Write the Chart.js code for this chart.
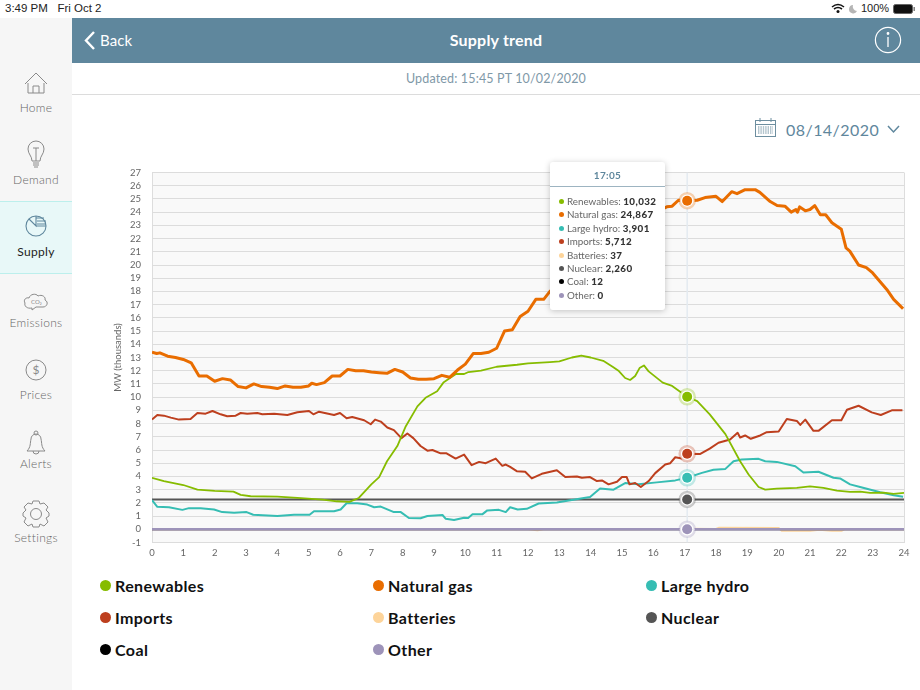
<!DOCTYPE html>
<html><head><meta charset="utf-8">
<script src="https://cdn.jsdelivr.net/npm/chart.js@4/dist/chart.umd.min.js"></script>
<style>
html,body{margin:0;padding:0;width:920px;height:690px;overflow:hidden;background:#fff;font-family:Lato,"Noto Sans",sans-serif;}
.abs{position:absolute;white-space:nowrap;}
#side{position:absolute;left:0;top:18px;width:72px;height:672px;background:#f6f6f6;}
#sel{position:absolute;left:0;top:201px;width:72px;height:71px;background:#e8f8f8;border-top:1px solid #bcefec;border-bottom:1px solid #bcefec;}
.nav{position:absolute;left:0;width:72px;text-align:center;font-size:12px;color:#666;font-weight:300;letter-spacing:.3px;}
#head{position:absolute;left:72px;top:18px;width:848px;height:45px;background:#5f879d;}
#line{position:absolute;left:72px;top:94px;width:848px;height:1px;background:#dcdcdc;}
canvas#c{position:absolute;left:100px;top:160px;}
#tip{position:absolute;left:550px;top:162px;width:115px;height:148px;background:#fff;border-radius:3px;box-shadow:0 1px 6px rgba(0,0,0,.22);font-size:9.8px;color:#666;}
#tip .t{position:absolute;left:0;top:7px;width:100%;text-align:center;color:#5f879d;font-weight:700;font-size:10px;letter-spacing:.3px;}
#tip .r{position:absolute;left:0;top:24px;width:100%;height:1px;background:#9db4c1;}
.row{position:absolute;left:17px;white-space:nowrap;}
.row b{color:#333;font-weight:900;letter-spacing:.4px;}
.row i{position:absolute;left:-8px;top:4px;width:5px;height:5px;border-radius:50%;}
.leg{position:absolute;font-size:16px;font-weight:700;color:#111;white-space:nowrap;letter-spacing:.4px;}
.leg i{position:absolute;left:-15px;top:4px;width:11px;height:11px;border-radius:50%;}
svg{position:absolute;overflow:visible;}
</style></head><body>
<div class="abs" style="left:5px;top:2px;font-size:11.5px;color:#222;font-family:'Liberation Sans'">3:49 PM&nbsp;&nbsp;&nbsp;Fri Oct 2</div>
<svg style="left:831px;top:3px" width="14" height="11" viewBox="0 0 14 11"><path d="M1 4 Q7 -1 13 4 M3 6 Q7 3 11 6" fill="none" stroke="#111" stroke-width="1.6"/><circle cx="7" cy="8.6" r="1.5" fill="#111"/></svg>
<svg style="left:848px;top:4px" width="10" height="10" viewBox="0 0 10 10"><path d="M5 1 A4.2 4.2 0 1 0 9 7 A4.5 4.5 0 0 1 5 1Z" fill="#b5b5b5"/></svg>
<div class="abs" style="left:861px;top:2px;font-size:11px;color:#222;font-family:'Liberation Sans'">100%</div>
<svg style="left:893px;top:4px" width="24" height="11" viewBox="0 0 24 11"><rect x=".5" y=".5" width="19" height="9" rx="2" fill="#111" stroke="#666"/><rect x="20.5" y="3" width="1.4" height="4" fill="#777"/></svg>

<div id="side"></div><div id="sel"></div>
<svg style="left:0;top:70px" width="72" height="40" fill="none" stroke="#8a8a8a" stroke-width="1"><path d="M25 14 L36 3 L47 14"/><path d="M28 13 V23 H44 V13 M33 23 V16 H39 V23"/></svg>
<svg style="left:0;top:140px" width="72" height="40" fill="none" stroke="#8a8a8a" stroke-width="1"><path d="M32 21 C32 16 28 14 28 9 A8 8 0 0 1 44 9 C44 14 40 16 40 21Z"/><path d="M33 8 H39 M36 8 V21 M33 23 H39 M33 25 H39 M34 27 H38"/></svg>
<svg style="left:0;top:213px" width="72" height="30" fill="none" stroke="#5f879d" stroke-width="1.1"><circle cx="36" cy="13" r="10"/><path d="M36 3 V13 L29 6 M36 5 H44 M37 8 H46 M37 11 H46 M36 13 H46"/></svg>
<svg style="left:0;top:288px" width="72" height="30" fill="none" stroke="#8a8a8a" stroke-width="1"><path d="M32 20 C27 21 24 18 25 15 C23 12 26 9 29 10 C30 6 36 5 38 8 C42 6 46 9 45 12 C49 14 47 19 43 19 H36 L32 22Z"/><text x="31" y="16" font-size="6" fill="#8a8a8a" stroke="none">CO₂</text></svg>
<svg style="left:0;top:358px" width="72" height="26" fill="none" stroke="#8a8a8a" stroke-width="1"><circle cx="36" cy="12" r="10"/><text x="36" y="16" font-size="12" text-anchor="middle" fill="#8a8a8a" stroke="none">$</text></svg>
<svg style="left:0;top:430px" width="72" height="26" fill="none" stroke="#8a8a8a" stroke-width="1"><path d="M27 21 C31 17 30 13 31 9 A5 5 0 0 1 41 9 C42 13 41 17 45 21Z M33 21 A3 3 0 0 0 39 21"/><circle cx="36" cy="3" r="2"/></svg>
<svg style="left:0;top:500px" width="72" height="30" fill="none" stroke="#8a8a8a" stroke-width="1"><circle cx="36" cy="14" r="5.5"/><path d="M33 1 L39 1 L40 4 L44 3 L48 7 L46 10 L49 13 V16 L46 18 L48 22 L44 26 L40 24 L39 27 H33 L32 24 L28 26 L24 22 L26 18 L23 16 V13 L26 10 L24 7 L28 3 L32 4Z"/></svg>
<div class="nav" style="top:100px">Home</div><div class="nav" style="top:172px">Demand</div>
<div class="nav" style="top:244px;color:#222;font-weight:400">Supply</div><div class="nav" style="top:315px">Emissions</div>
<div class="nav" style="top:387px">Prices</div><div class="nav" style="top:456px">Alerts</div><div class="nav" style="top:530px">Settings</div>

<div id="head"></div>
<svg style="left:84px;top:31px" width="12" height="20" fill="none" stroke="#fff" stroke-width="2.4"><path d="M10 1 L2 9.5 L10 18"/></svg>
<div class="abs" style="left:100px;top:31px;color:#fff;font-size:15px;font-weight:400;letter-spacing:.1px">Back</div>
<div class="abs" style="left:72px;width:848px;text-align:center;top:30px;color:#fff;font-size:16px;font-weight:700;letter-spacing:.2px">Supply trend</div>
<svg style="left:874px;top:26px" width="28" height="28" fill="none" stroke="#fff" stroke-width="1.2"><circle cx="14" cy="14" r="12.6"/><path d="M14 11 V21" stroke-width="1.3"/><circle cx="14" cy="7.5" r=".8" fill="#fff"/></svg>
<div class="abs" style="left:72px;width:848px;text-align:center;top:71px;color:#7f99a8;font-size:12.5px;font-weight:400;letter-spacing:.15px">Updated: 15:45 PT 10/02/2020</div>
<div id="line"></div>
<svg style="left:755px;top:118px" width="22" height="20" fill="none" stroke="#6d8e9f" stroke-width="1"><rect x=".5" y="2.5" width="20" height="16"/><path d="M.5 6.5 H20.5 M5 0 V4 M16 0 V4" /><path d="M3 9 H18 M3 11 H18 M3 13 H18 M3 15 H18" stroke-dasharray="1.4 1"/></svg>
<div class="abs" style="left:786px;top:120px;color:#5f879d;font-size:16px;font-weight:400;letter-spacing:.45px">08/14/2020</div>
<svg style="left:887px;top:125px" width="13" height="9" fill="none" stroke="#5f879d" stroke-width="1.5"><path d="M1 1 L6.5 7 L12 1"/></svg>

<canvas id="c" width="820" height="400" style="width:820px;height:400px"></canvas>
<div id="tip"><div class="t" id="tipTime"></div><div class="r"></div></div>
<div id="legend"></div>

<script>
const seriesNames = ["Renewables","Natural gas","Large hydro","Imports","Batteries","Nuclear","Coal","Other"];
const seriesColors = ["#86bc00","#e96d00","#36bdb3","#bd3f1e","#fdd49a","#555555","#000000","#9d93b9"];
const tooltipTime = "17:05";
const tooltipHour = 17.08;
const tooltipValues = [10032,24867,3901,5712,37,2260,12,0];
const yTicks = [-1,0,1,2,3,4,5,6,7,8,9,10,11,12,13,14,15,16,17,18,19,20,21,22,23,24,25,26,27];

const renewablesHours = [0,.38,1,1.45,2,2.6,2.83,3.15,4,4.64,5.44,5.9,6.3,6.6,7,7.25,7.5,7.83,8.1,8.47,8.73,9.1,9.3,9.7,9.96,10.1,10.5,11,11.65,12,12.7,13,13.4,13.7,14,14.4,14.7,14.9,15.1,15.26,15.42,15.56,15.7,15.85,16.3,16.6,17.08,17.4,17.8,18.3,18.77,19.04,19.36,19.57,19.94,20.58,21,21.43,21.86,22.28,22.6,22.92,23.35,23.67,24];
const renewablesMW = [3.9,3.65,3.35,3,2.9,2.85,2.6,2.5,2.47,2.37,2.25,2.12,2.07,2.37,3.4,3.95,5.15,6.3,7.8,9.3,9.95,10.45,11.1,11.75,11.75,11.9,12,12.3,12.45,12.55,12.65,12.7,13,13.15,13,12.75,12.3,11.97,11.45,11.3,11.6,12.2,12.4,11.95,11.1,10.85,10.03,9.7,8.7,7.2,5.15,4.15,3.2,3,3.08,3.13,3.25,3.13,2.93,2.83,2.85,2.75,2.78,2.68,2.75];

const gasHours = [0,.15,.25,.5,.75,1,1.25,1.5,1.75,2,2.25,2.5,2.75,3,3.25,3.5,3.75,4,4.25,4.5,4.75,5,5.1,5.25,5.5,5.75,6,6.25,6.5,6.75,7,7.25,7.5,7.75,8,8.25,8.5,8.75,9,9.25,9.5,9.75,10,10.25,10.5,10.75,11,11.25,11.5,11.75,12,12.25,12.5,12.7,13,13.5,14,14.5,15,15.5,16,16.43,16.6,16.8,17.08,17.4,17.65,18,18.2,18.5,18.67,18.93,19.25,19.4,19.73,19.95,20.2,20.4,20.55,20.6,20.67,20.85,21,21.15,21.33,21.5,21.7,22,22.15,22.27,22.55,22.8,23,23.45,23.67,23.97];
const gasMW = [13.4,13.3,13.35,13.1,13,12.85,12.6,11.6,11.6,11.2,11.4,11.3,10.8,10.7,11,10.8,10.75,10.65,10.85,10.75,10.75,10.85,11.05,10.95,11.1,11.6,11.6,12.1,12,12,11.9,11.85,11.8,12.1,11.9,11.45,11.35,11.35,11.4,11.65,11.5,12.05,12.5,13.3,13.3,13.4,13.7,15,15.1,16.1,16.5,17.4,17.4,18,18.6,19.5,20.4,21.4,22.3,23.2,23.9,24.4,24.45,24.9,24.87,24.9,25.1,25.2,24.8,25.55,25.4,25.7,25.7,25.5,24.8,24.5,24.45,24,24.2,24,24.4,24.1,24.2,24.5,23.8,23.8,23.2,22.7,21.3,21.05,20,19.8,19.4,18.15,17.4,16.7];

const hydroHours = [0,.17,.54,.97,1.18,1.55,1.98,2.24,2.62,3.02,3.23,4,4.53,5.03,5.17,5.81,6.02,6.21,6.55,6.87,7.09,7.3,7.72,7.94,8.2,8.57,8.79,9.27,9.37,9.64,9.96,10.09,10.23,10.54,10.7,11.07,11.29,11.43,11.67,11.96,12.34,12.92,13.35,13.98,14.3,14.73,15.1,15.53,16.11,16.7,17.08,17.55,17.92,18.3,18.56,18.82,19.36,19.57,19.94,20.53,20.79,21.27,21.75,21.96,22.28,22.6,23.24,23.67,23.97];
const hydroMW = [2.2,1.7,1.67,1.47,1.6,1.6,1.5,1.3,1.25,1.3,1.1,1,1.1,1.1,1.37,1.37,1.5,1.97,1.97,1.87,1.67,1.72,1.3,1.3,.85,.83,1,1.08,.8,.7,.88,.85,1.13,1.13,1.43,1.47,1.3,1.67,1.5,1.55,1.95,2.02,2.2,2.45,3.08,3,3.5,3.4,3.55,3.7,3.9,4.27,4.5,4.57,5.15,5.28,5.33,5.15,5.1,4.77,4.3,4.35,3.9,3.85,3.4,3.2,2.8,2.58,2.47];

const importsHours = [0,.17,.38,.6,.86,1.23,1.45,1.71,1.93,2.19,2.4,2.67,2.83,3.04,3.36,3.52,3.9,4.32,4.64,5.01,5.15,5.33,5.81,6,6.21,6.39,6.77,6.98,7.12,7.3,7.51,7.72,7.96,8.15,8.34,8.57,8.79,8.95,9.21,9.4,9.69,9.96,10.2,10.44,10.65,10.97,11.18,11.29,11.43,11.64,11.91,12.12,12.44,12.92,13.19,13.56,13.72,13.98,14.2,14.36,14.57,14.84,15,15.15,15.24,15.42,15.6,15.85,16.06,16.38,16.54,16.7,16.91,17.08,17.5,17.8,18.08,18.45,18.69,18.77,18.93,19.11,19.41,19.62,20,20.26,20.58,20.69,20.85,21.11,21.27,21.7,22,22.18,22.55,22.97,23.26,23.61,23.95];
const importsMW = [8.3,8.65,8.6,8.45,8.3,8.35,8.8,8.75,8.95,8.7,8.55,8.6,8.8,8.75,8.8,8.7,8.75,8.65,8.85,8.95,8.7,8.9,8.65,8.8,8.4,8.5,8.25,7.95,8.3,8.15,7.7,7.5,6.9,7.25,6.9,6.3,5.95,6,5.75,5.75,5.35,5.65,4.85,5.1,5,5.35,4.8,4.9,4.72,4.4,4.35,3.85,4.2,4.47,3.95,4,3.9,3.95,3.65,3.7,3.4,3.6,3.95,3.95,3.4,3.5,3.2,3.65,4.25,4.9,5,5.45,5.35,5.71,5.7,6.1,6.55,6.8,7.3,6.95,7.1,6.85,7.1,7.35,7.4,8.35,8.2,7.9,8.3,7.45,7.45,8.25,8.25,9.05,9.35,8.85,8.65,9,9];

const batteriesHours = [0,12,12.3,12.5,13,17,17.08,18,18.1,20,20.1,21,21.3,21.7,22,22.1,24];
const batteriesMW = [0,0,-.08,0,0,.03,.04,.03,.12,.1,-.12,-.12,-.04,-.12,-.12,0,0];
const flatHours = [0,24];
const nuclearMW = [2.26,2.26];
const coalMW = [.012,.012];
const otherMW = [0,0];

const valueLists = [[renewablesHours,renewablesMW],[gasHours,gasMW],[hydroHours,hydroMW],[importsHours,importsMW],[batteriesHours,batteriesMW],[flatHours,nuclearMW],[flatHours,coalMW],[flatHours,otherMW]];
const lineWidths = [1.8,3,2,2,2,2,2,2.5];
const drawOrder = [4,5,6,7,2,3,0,1];
const xy = (h,v)=>h.map((x,i)=>({x,y:v[i]}));
const alpha = (hex,a)=>hex+Math.round(a*255).toString(16).padStart(2,'0');
const sets = [];
sets.push({data:[{x:tooltipHour,y:-1},{x:tooltipHour,y:27}],showLine:true,borderColor:'#e3eaf0',borderWidth:1.5,pointRadius:0,order:100});
drawOrder.forEach((s,i)=>{
  sets.push({label:seriesNames[s],data:xy(valueLists[s][0],valueLists[s][1]),showLine:true,borderColor:seriesColors[s],borderWidth:lineWidths[s],pointRadius:0,tension:0,borderJoinStyle:'round',order:90-i});
});
[0,1,2,3,5,7].forEach(s=>{
  const y = s===7?0:tooltipValues[s]/1000;
  sets.push({data:[{x:tooltipHour,y}],pointRadius:7.5,pointBackgroundColor:'#fff',pointBorderColor:alpha(seriesColors[s],.3),pointBorderWidth:2.5,showLine:false,order:20});
  sets.push({data:[{x:tooltipHour,y}],pointRadius:5,pointBackgroundColor:seriesColors[s],pointBorderWidth:0,showLine:false,order:10});
});

const plotBg = {id:'plotBg',beforeDraw(ch){const a=ch.chartArea,g=ch.ctx;g.save();g.fillStyle='#f9f9f9';g.fillRect(a.left,a.top,a.right-a.left,a.bottom-a.top);g.restore();}};
new Chart(document.getElementById('c'),{
  type:'scatter',
  data:{datasets:sets},
  plugins:[plotBg],
  options:{
    responsive:false,animation:false,
    layout:{padding:{top:12.5,right:16,left:0,bottom:0}},
    plugins:{legend:{display:false},tooltip:{enabled:false}},
    scales:{
      x:{type:'linear',min:0,max:24,
        afterFit(s){s.height=17.5;s.paddingLeft=0;s.paddingRight=0;},
        afterBuildTicks(s){s.ticks=Array.from({length:25},(_,i)=>({value:i}));},
        ticks:{color:'#666',font:{family:'Lato',size:9.5},maxRotation:0,padding:5,autoSkip:false},
        grid:{display:true,drawTicks:false,color:c=>(c.tick.value===0||c.tick.value===24)?'#dddddd':'rgba(0,0,0,0)'},
        border:{display:false}},
      y:{type:'linear',min:-1,max:27,
        afterFit(s){s.width=52;s.paddingTop=0;s.paddingBottom=0;},
        afterBuildTicks(s){s.ticks=yTicks.map(v=>({value:v}));},
        title:{display:true,text:'MW (thousands)',color:'#666',font:{family:'Lato',size:9.5},padding:{top:12,bottom:0}},
        ticks:{color:'#666',font:{family:'Lato',size:9.5},padding:11,autoSkip:false},
        grid:{color:'#dcdcdc',drawTicks:false,lineWidth:1},
        border:{display:false}}
    }
  }
});
</script>
<script>
document.getElementById('tipTime').textContent = tooltipTime;
const tip=document.getElementById('tip');
seriesNames.forEach((n,i)=>{
  const r=document.createElement('div');r.className='row';r.style.top=(33+i*13.4)+'px';
  r.innerHTML='<i style="background:'+seriesColors[i]+'"></i>'+n+': <b>'+tooltipValues[i].toLocaleString('en-US')+'</b>';
  tip.appendChild(r);
});
const lg=document.getElementById('legend');
seriesNames.forEach((n,i)=>{
  const d=document.createElement('div');d.className='leg';
  d.style.left=[115,388,661][i%3]+'px';d.style.top=(576+Math.floor(i/3)*32)+'px';
  d.innerHTML='<i style="background:'+seriesColors[i]+'"></i>'+n;
  lg.appendChild(d);
});
</script>
</body></html>
